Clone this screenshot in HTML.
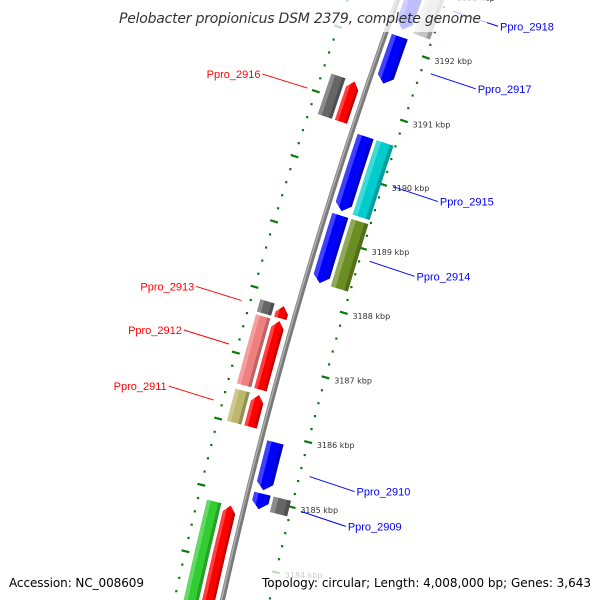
<!DOCTYPE html>
<html><head><meta charset="utf-8"><style>
html,body{margin:0;padding:0;background:#fff;width:600px;height:600px;overflow:hidden;}
svg{display:block;}
</style></head><body>
<svg id="chart" width="600" height="600" viewBox="0 0 600 600" xmlns="http://www.w3.org/2000/svg">
<rect width="600" height="600" fill="#fff"/>
<g id="ticks"></g>
<g id="backbone"></g>
<g id="features"></g>
<g id="labels"></g>
<rect x="113" y="0" width="374" height="32" fill="#fff" fill-opacity="0.75"/>
<rect x="5" y="570" width="144" height="25" fill="#fff" fill-opacity="0.75"/>
<rect x="258" y="568" width="338" height="27" fill="#fff" fill-opacity="0.75"/>
<text x="300" y="23" text-anchor="middle" font-family="DejaVu Sans, Liberation Sans, sans-serif" font-style="italic" font-size="14" fill="#333" textLength="362">Pelobacter propionicus DSM 2379, complete genome</text>
<text x="9" y="587" font-family="DejaVu Sans, Liberation Sans, sans-serif" font-size="12" fill="#000" textLength="135">Accession: NC_008609</text>
<text x="262" y="587" font-family="DejaVu Sans, Liberation Sans, sans-serif" font-size="12" fill="#000" textLength="329">Topology: circular; Length: 4,008,000 bp; Genes: 3,643</text>
</svg>
<script>
const geneNames=['Ppro_2918','Ppro_2917','Ppro_2916','Ppro_2915','Ppro_2914','Ppro_2913','Ppro_2912','Ppro_2911','Ppro_2910','Ppro_2909','Ppro_2908'];
const geneStart=[3192273,3191424,3190690,3189435,3188320,3187660,3186567,3186000,3185140,3184850,3182800];
const geneEnd=[3193300,3192165,3191320,3190600,3189373,3187850,3187620,3186490,3185873,3185090,3184810];
const geneStrand=[-1,-1,1,-1,-1,1,1,1,-1,-1,1];
const geneCog=['lightgray','none','gray','cyan','olive','gray','pink','khaki','none','gray','green'];
const geneLabeled=[true,true,true,true,true,true,true,true,true,true,false];
const tickStart=3182800, tickEnd=3193600, tickMinor=200, tickMajor=1000;

const NS='http://www.w3.org/2000/svg';
const CX=5013, CY=1672;
const R_BB=4909, R_TICK_IN=4863, R_TICK_OUT=4956;
const cogFill={lightgray:'#c4c4c4',gray:'#666666',cyan:'#00cccc',olive:'#6b8e23',pink:'#f08080',khaki:'#bdb76b',green:'#32cd32'};
function pos(bp,r){const t=(198.6+(bp-3191000)*0.00079)*Math.PI/180;return [CX+r*Math.cos(t),CY+r*Math.sin(t)];}
function P(p){return p[0].toFixed(2)+' '+p[1].toFixed(2);}
function mk(tag,attrs,parent){const e=document.createElementNS(NS,tag);for(const k in attrs)e.setAttribute(k,attrs[k]);parent.appendChild(e);return e;}
function boxPath(b1,b2,r1,r2){return 'M'+P(pos(b1,r2))+' A'+r2+' '+r2+' 0 0 1 '+P(pos(b2,r2))+' L'+P(pos(b2,r1))+' A'+r1+' '+r1+' 0 0 0 '+P(pos(b1,r1))+' Z';}
function arrowPath(b1,b2,r1,r2,strand){
  const h=Math.min(110,(b2-b1)*0.7), rm=(r1+r2)/2;
  if(strand>0){return 'M'+P(pos(b1,r2))+' A'+r2+' '+r2+' 0 0 1 '+P(pos(b2-h,r2))+' L'+P(pos(b2,rm))+' L'+P(pos(b2-h,r1))+' A'+r1+' '+r1+' 0 0 0 '+P(pos(b1,r1))+' Z';}
  return 'M'+P(pos(b1+h,r2))+' A'+r2+' '+r2+' 0 0 1 '+P(pos(b2,r2))+' L'+P(pos(b2,r1))+' A'+r1+' '+r1+' 0 0 0 '+P(pos(b1+h,r1))+' L'+P(pos(b1,rm))+' Z';
}
const svg=document.getElementById('chart');
const defs=mk('defs',{},svg);

// ticks
const tg=document.getElementById('ticks');
for(let bp=tickStart;bp<=tickEnd;bp+=tickMinor){
  const major=(bp%tickMajor===0);
  [R_TICK_IN,R_TICK_OUT].forEach(function(r){
    if(major){
      const a=pos(bp,r-4),b=pos(bp,r+4);
      const ln=mk('line',{x1:a[0],y1:a[1],x2:b[0],y2:b[1],stroke:'#0a7a0a','stroke-width':2.2},tg);
      
      
    }else{
      const c=pos(bp,r);
      const d=mk('rect',{x:c[0]-1.1,y:c[1]-1.1,width:2.2,height:2.2,fill:'#0a7a0a'},tg);
      
      
    }
  });
  if(major){
    const c=pos(bp,R_TICK_IN-8);
    const t=mk('text',{x:c[0]+1,y:c[1]+4,'font-family':'DejaVu Sans, Liberation Sans, sans-serif','font-size':8,fill:'#333'},tg);
    t.textContent=(bp/1000)+' kbp';
    
    
  }
}

// backbone
const bbg=document.getElementById('backbone');
const bb=mk('path',{d:'M'+P(pos(3182000,R_BB))+' A'+R_BB+' '+R_BB+' 0 0 1 '+P(pos(3194200,R_BB)),fill:'none',stroke:'#7a7a7a','stroke-width':5},bbg);


const bbh=mk('path',{d:'M'+P(pos(3182000,R_BB+1))+' A'+(R_BB+1)+' '+(R_BB+1)+' 0 0 1 '+P(pos(3194200,R_BB+1)),fill:'none',stroke:'#b0b0b0','stroke-width':1.5},bbg);



// features
const fg=document.getElementById('features');
function shaded(d,fill,r1,r2,b1,b2,id,name){
  const cp=mk('clipPath',{id:id},defs);
  mk('path',{d:d},cp);
  const g=mk('g',{'clip-path':'url(#'+id+')'},fg);
  
  
  mk('path',{d:d,fill:fill},g);
  mk('path',{d:boxPath(b1-50,b2+50,r2-(r2-r1)*0.28,r2+1),fill:'#fff','fill-opacity':0.25},g);
  mk('path',{d:boxPath(b1-50,b2+50,r1-1,r1+(r2-r1)*0.22),fill:'#000','fill-opacity':0.22},g);
}
for(let i=0;i<geneNames.length;i++){
  const s=geneStrand[i];
  const r1=s>0?4916:4886, r2=s>0?4929:4903;
  const col=s>0?'#ff0000':'#0000ff';
  shaded(arrowPath(geneStart[i],geneEnd[i],r1,r2,s),col,r1,r2,geneStart[i],geneEnd[i],'g'+i,'gene-'+geneNames[i].toLowerCase().replace('_','-'));
  if(geneCog[i]!=='none'){
    const c1=s>0?4932:4865, c2=s>0?4947:4883;
    shaded(boxPath(geneStart[i],geneEnd[i],c1,c2),cogFill[geneCog[i]],c1,c2,geneStart[i],geneEnd[i],'c'+i,'cog-box-'+geneNames[i].toLowerCase().replace('_','-'));
  }
}

// labels
const lg=document.getElementById('labels');
for(let i=0;i<geneNames.length;i++){
  if(!geneLabeled[i])continue;
  const s=geneStrand[i], mid=(geneStart[i]+geneEnd[i])/2;
  const col=s>0?'#ff0000':'#0000ff';
  const a=pos(mid,s>0?4965:4853);
  const b=s>0?[a[0]-45,a[1]-14]:[a[0]+45,a[1]+15];
  const ln=mk('line',{x1:a[0],y1:a[1],x2:b[0],y2:b[1],stroke:col,'stroke-width':1},lg);
  
  
  const t=mk('text',{x:s>0?b[0]-2:b[0]+2,y:b[1]+4,'text-anchor':s>0?'end':'start','font-family':'Liberation Sans, DejaVu Sans, sans-serif','font-size':11,fill:col},lg);
  t.textContent=geneNames[i];
  
  
}
</script>
</body></html>
